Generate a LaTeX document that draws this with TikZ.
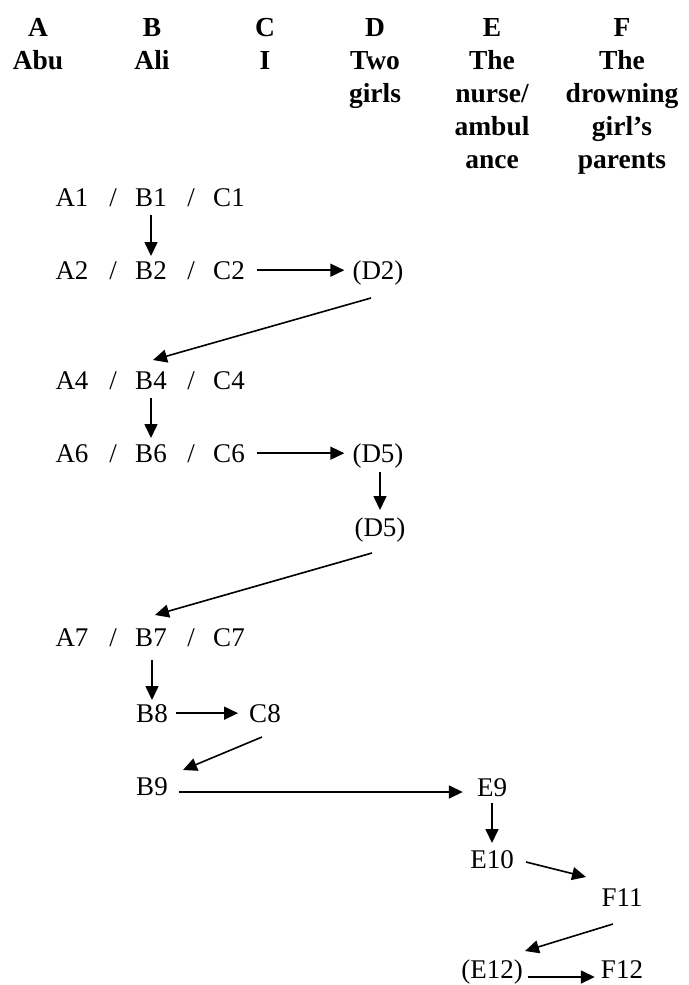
\documentclass[tikz,border=0pt]{standalone}
\usepackage{fontspec}
\setmainfont{Liberation Serif}
\usetikzlibrary{arrows.meta}

\begin{document}
\begin{tikzpicture}[
  x=1pt, y=-1pt,
  head/.style={anchor=north, align=center, inner sep=0pt,
               font=\fontsize{27.5}{33}\selectfont\bfseries},
  item/.style={anchor=base, inner sep=0pt, font=\fontsize{27}{32}\selectfont},
  arr/.style={-{Triangle[length=14pt, width=13pt]}, line width=1.6pt}
]
\useasboundingbox (0,0) rectangle (688,985);

% column heads
\node[head] (hA) at (38,18)  {A\\Abu};
\node[head] (hB) at (152,18) {B\\Ali};
\node[head] (hC) at (265,18) {C\\I};
\node[head] (hD) at (375,18) {D\\Two\\girls};
\node[head] (hE) at (492,18) {E\\The\\nurse/\\ambul\\ance};
\node[head] (hF) at (622,18) {F\\The\\drowning\\girl’s\\parents};

% rows A / B / C
\foreach \r/\y in {1/206, 2/279, 4/389, 6/462, 7/646} {
  \node[item] (a\r)  at (72,\y)  {A\r};
  \node[item] (sa\r) at (113,\y) {/};
  \node[item] (b\r)  at (151,\y) {B\r};
  \node[item] (sb\r) at (191,\y) {/};
  \node[item] (c\r)  at (229,\y) {C\r};
}
\node[item] (d2)  at (378,279) {(D2)};
\node[item] (d5)  at (378,462) {(D5)};
\node[item] (d5b) at (380,536) {(D5)};
\node[item] (b8)  at (152,722) {B8};
\node[item] (c8)  at (265,722) {C8};
\node[item] (b9)  at (152,795) {B9};
\node[item] (e9)  at (492,796) {E9};
\node[item] (e10) at (492,868) {E10};
\node[item] (f11) at (622,906) {F11};
\node[item] (e12) at (492,978) {(E12)};
\node[item] (f12) at (622,978) {F12};

\draw[arr] ([yshift=-9pt]b1.base) -- ([yshift=23pt]b2.base);
\draw[arr, shorten <=12pt, shorten >=8pt] (c2.east) -- (c2.east -| d2.west);
\draw[arr] ([xshift=-7pt,yshift=-19pt]d2.base) -- ([xshift=2pt,yshift=29pt]b4.base);
\draw[arr] ([yshift=-9pt]b4.base) -- ([yshift=24pt]b6.base);
\draw[arr, shorten <=12pt, shorten >=8pt] (c6.east) -- (c6.east -| d5.west);
\draw[arr] ([xshift=2pt,yshift=-10pt]d5.base) -- ([yshift=26pt]d5b.base);
\draw[arr] ([xshift=-8pt,yshift=-17pt]d5b.base) -- ([xshift=4pt,yshift=31pt]b7.base);
\draw[arr] ([xshift=1pt,yshift=-14pt]b7.base) -- ([yshift=22pt]b8.base);
\draw[arr, shorten <=8pt, shorten >=11pt] (b8.east) -- (b8.east -| c8.west);
\draw[arr] ([xshift=-3pt,yshift=-15pt]c8.base) -- ([xshift=31pt,yshift=25pt]b9.base);
\draw[arr, shorten <=11pt, shorten >=14pt] ([yshift=3pt]b9.base east) -- ([yshift=3pt]b9.base east -| e9.west);
\draw[arr] ([yshift=-7pt]e9.base) -- ([yshift=25pt]e10.base);
\draw[arr] ([xshift=34pt,yshift=6pt]e10.base) -- ([xshift=-36pt,yshift=29pt]f11.base);
\draw[arr] ([xshift=-9pt,yshift=-18pt]f11.base) -- ([xshift=33pt,yshift=27pt]e12.base);
\draw[arr, shorten <=5pt, shorten >=6pt] ([yshift=1pt]e12.base east) -- ([yshift=1pt]e12.base east -| f12.west);
\end{tikzpicture}
\end{document}
